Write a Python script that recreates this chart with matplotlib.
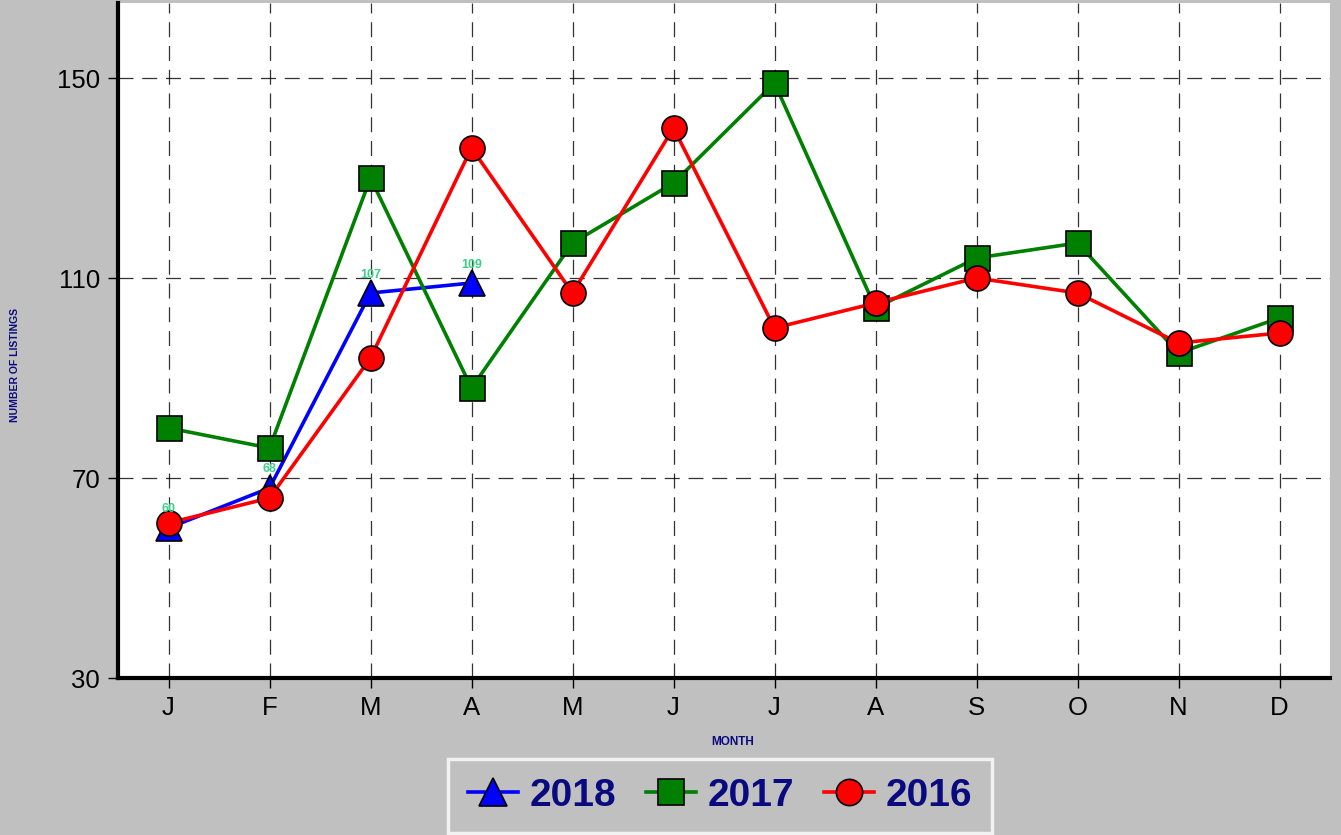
import matplotlib.pyplot as plt

months = ['J', 'F', 'M', 'A', 'M', 'J', 'J', 'A', 'S', 'O', 'N', 'D']
listings_2018 = [60, 68, 107, 109]
listings_2017 = [80, 76, 130, 88, 117, 129, 149, 104, 114, 117, 95, 102]
listings_2016 = [61, 66, 94, 136, 107, 140, 100, 105, 110, 107, 97, 99]
y_ticks = [30, 70, 110, 150]

plt.rcParams['font.family'] = ['Liberation Sans', 'DejaVu Sans']
navy = '#0a0a80'
bg = '#c0c0c0'

fig = plt.figure(figsize=(13.41, 8.35), dpi=100, facecolor=bg)
ax = fig.add_axes([118 / 1341, 1 - 678 / 835, (1330 - 118) / 1341, (678 - 3) / 835])
ax.set_facecolor('white')

x_all = list(range(len(months)))
ax.plot(x_all[:len(listings_2018)], listings_2018, color='blue', lw=2.6, marker='^',
        ms=19, mfc='blue', mec='black', mew=1.2, label='2018', zorder=3)
ax.plot(x_all, listings_2017, color='green', lw=2.6, marker='s',
        ms=18, mfc='green', mec='black', mew=1.2, label='2017', zorder=4)
ax.plot(x_all, listings_2016, color='red', lw=2.6, marker='o',
        ms=18, mfc='red', mec='black', mew=1.2, label='2016', zorder=5)

# value labels for current year
for i, v in enumerate(listings_2018):
    ax.annotate(str(v), (i, v), xytext=(0, 9), textcoords='offset points',
                ha='center', va='bottom', fontsize=9, fontweight='bold',
                color='#3ccf86', zorder=6)

ax.set_xlim(-0.5, 11.5)
ax.set_ylim(30, 165)
ax.set_xticks(x_all)
ax.set_xticklabels(months)
ax.set_yticks(y_ticks)
ax.tick_params(axis='both', labelsize=18.5, length=7, width=1, color='black', pad=6)

ax.grid(True, color='black', linestyle=(0, (12, 7)), linewidth=0.9, alpha=0.8)
ax.set_axisbelow(True)

for s in ['top', 'right']:
    ax.spines[s].set_visible(False)
for s in ['left', 'bottom']:
    ax.spines[s].set_linewidth(3)
    ax.spines[s].set_color('black')

fig.text(15 / 1341, 1 - 365 / 835, 'NUMBER OF LISTINGS', rotation=90, ha='center',
         va='center', fontsize=7.5, fontweight='bold', color=navy)
fig.text(733 / 1341, 1 - 742 / 835, 'MONTH', ha='center', va='center',
         fontsize=8.5, fontweight='bold', color=navy)

leg = fig.legend(loc='center', bbox_to_anchor=(720 / 1341, 1 - 796 / 835), ncol=3,
                 fontsize=28, frameon=True, fancybox=False, facecolor=bg,
                 edgecolor='white', handlelength=1.3, handletextpad=0.3,
                 columnspacing=0.75, borderpad=0.5, borderaxespad=0,
                 markerscale=1.05)
leg.get_frame().set_linewidth(2.5)
for t in leg.get_texts():
    t.set_color(navy)
    t.set_fontweight('bold')

fig.savefig('out.png', dpi=100, facecolor=bg)
